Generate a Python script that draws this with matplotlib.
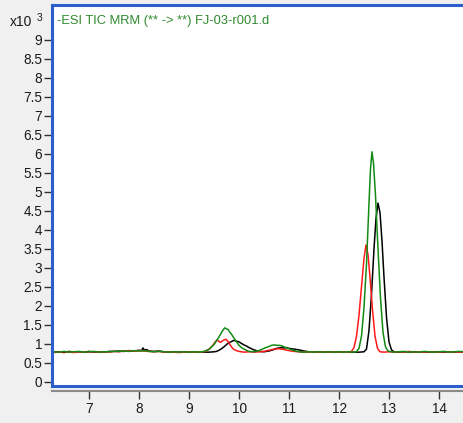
import numpy as np
import matplotlib.pyplot as plt

# retention time (min) and counts (x10^3) for each MRM trace
black_t = [6.26, 6.4, 6.5, 6.6, 6.7, 6.8, 6.9, 7.0, 7.1, 7.2, 7.3, 7.4, 7.5, 7.6, 7.7, 7.8, 7.9,
           8.0, 8.05, 8.08, 8.11, 8.15, 8.2, 8.3, 8.4, 8.5, 8.6, 8.7, 8.8, 8.9, 9.0, 9.1, 9.2,
           9.3, 9.4, 9.5, 9.55, 9.6, 9.65, 9.7, 9.75, 9.8, 9.85, 9.9, 9.95, 10.0, 10.05, 10.1,
           10.15, 10.2, 10.3, 10.4, 10.5, 10.6, 10.7, 10.75, 10.8, 10.85, 10.9, 10.95, 11.0,
           11.05, 11.1, 11.2, 11.3, 11.4, 11.5, 11.6, 11.7, 11.8, 11.9, 12.0, 12.1, 12.2,
           12.3, 12.4, 12.5, 12.55, 12.6, 12.65, 12.7, 12.74, 12.78, 12.82, 12.86, 12.9,
           12.95, 13.0, 13.05, 13.1, 13.2, 13.3, 13.4, 13.5, 13.6, 13.7, 13.8, 13.9, 14.0,
           14.1, 14.2, 14.3, 14.4, 14.5]
black_y = [0.78, 0.79, 0.77, 0.80, 0.78, 0.79, 0.78, 0.80, 0.78, 0.79, 0.78, 0.80, 0.80, 0.81, 0.80, 0.82, 0.81,
           0.83, 0.82, 0.89, 0.83, 0.85, 0.81, 0.80, 0.81, 0.79, 0.78, 0.79, 0.78, 0.78, 0.79, 0.78, 0.78,
           0.78, 0.78, 0.79, 0.80, 0.83, 0.87, 0.92, 0.98, 1.03, 1.06, 1.09, 1.07, 1.05, 1.01, 0.97,
           0.94, 0.90, 0.84, 0.80, 0.79, 0.81, 0.85, 0.88, 0.89, 0.90, 0.89, 0.90, 0.88,
           0.87, 0.86, 0.84, 0.81, 0.79, 0.78, 0.79, 0.78, 0.79, 0.78, 0.78, 0.79, 0.78,
           0.78, 0.78, 0.79, 0.86, 1.35, 2.30, 3.50, 4.30, 4.70, 4.45, 3.70, 2.75,
           1.70, 1.05, 0.84, 0.79, 0.78, 0.79, 0.78, 0.78, 0.79, 0.78, 0.78, 0.79, 0.78,
           0.78, 0.79, 0.78, 0.78, 0.78]

red_t = [6.26, 6.4, 6.5, 6.6, 6.7, 6.8, 6.9, 7.0, 7.1, 7.2, 7.3, 7.4, 7.5, 7.6, 7.7, 7.8, 7.9,
         8.0, 8.1, 8.2, 8.3, 8.4, 8.5, 8.6, 8.7, 8.8, 8.9, 9.0, 9.1, 9.2, 9.3, 9.35, 9.4, 9.45,
         9.5, 9.53, 9.56, 9.6, 9.63, 9.66, 9.7, 9.74, 9.78, 9.82, 9.86, 9.9, 9.95, 10.0, 10.05,
         10.1, 10.2, 10.3, 10.4, 10.5, 10.6, 10.7, 10.8, 10.9, 11.0, 11.1, 11.2, 11.3, 11.4,
         11.5, 11.6, 11.7, 11.8, 11.9, 12.0, 12.1, 12.2, 12.25, 12.3, 12.35, 12.4, 12.45, 12.5,
         12.54, 12.58, 12.62, 12.67, 12.72, 12.77, 12.82, 12.9, 13.0, 13.1, 13.2, 13.3, 13.4,
         13.5, 13.6, 13.7, 13.8, 13.9, 14.0, 14.1, 14.2, 14.3, 14.4, 14.5]
red_y = [0.77, 0.78, 0.79, 0.78, 0.77, 0.79, 0.78, 0.78, 0.79, 0.78, 0.79, 0.78, 0.80, 0.79, 0.81, 0.82, 0.81,
         0.82, 0.81, 0.80, 0.79, 0.80, 0.78, 0.79, 0.78, 0.77, 0.78, 0.79, 0.78, 0.78, 0.79, 0.82, 0.86, 0.92,
         1.00, 1.06, 1.10, 1.06, 1.04, 1.07, 1.10, 1.12, 1.06, 0.98, 0.90, 0.85, 0.82, 0.80, 0.79,
         0.78, 0.79, 0.78, 0.79, 0.80, 0.83, 0.86, 0.87, 0.85, 0.82, 0.80, 0.79, 0.78, 0.79,
         0.78, 0.78, 0.79, 0.78, 0.79, 0.78, 0.79, 0.78, 0.80, 0.90, 1.20, 1.75, 2.50, 3.25,
         3.60, 3.35, 2.75, 1.90, 1.20, 0.88, 0.79, 0.78, 0.79, 0.78, 0.79, 0.78, 0.80,
         0.78, 0.79, 0.78, 0.79, 0.78, 0.78, 0.79, 0.78, 0.79, 0.78, 0.78]

green_t = [6.26, 6.4, 6.5, 6.6, 6.7, 6.8, 6.9, 7.0, 7.1, 7.2, 7.3, 7.4, 7.5, 7.6, 7.7, 7.8, 7.9,
           8.0, 8.1, 8.2, 8.3, 8.4, 8.5, 8.6, 8.7, 8.8, 8.9, 9.0, 9.1, 9.2, 9.3, 9.4, 9.5, 9.55,
           9.6, 9.63, 9.66, 9.69, 9.72, 9.75, 9.78, 9.82, 9.85, 9.9, 9.95, 10.0, 10.05, 10.1,
           10.2, 10.3, 10.4, 10.5, 10.6, 10.65, 10.7, 10.75, 10.8, 10.85, 10.9, 11.0, 11.1,
           11.2, 11.3, 11.4, 11.5, 11.6, 11.7, 11.8, 11.9, 12.0, 12.1, 12.2, 12.3, 12.35,
           12.4, 12.45, 12.5, 12.55, 12.6, 12.63, 12.66, 12.69, 12.73, 12.78, 12.83, 12.88,
           12.93, 12.98, 13.05, 13.1, 13.2, 13.3, 13.4, 13.5, 13.6, 13.7, 13.8, 13.9, 14.0,
           14.1, 14.2, 14.3, 14.4, 14.5]
green_y = [0.79, 0.78, 0.80, 0.78, 0.79, 0.80, 0.78, 0.79, 0.80, 0.78, 0.79, 0.79, 0.80, 0.80, 0.81, 0.80, 0.82,
           0.81, 0.82, 0.80, 0.79, 0.80, 0.79, 0.78, 0.79, 0.78, 0.79, 0.78, 0.79, 0.78, 0.80, 0.85, 0.98, 1.08,
           1.18, 1.25, 1.32, 1.38, 1.42, 1.39, 1.38, 1.30, 1.25, 1.15, 1.05, 0.96, 0.90, 0.86,
           0.80, 0.79, 0.82, 0.88, 0.93, 0.96, 0.97, 0.96, 0.96, 0.95, 0.92, 0.87, 0.82,
           0.79, 0.78, 0.79, 0.78, 0.79, 0.78, 0.79, 0.78, 0.79, 0.78, 0.79, 0.78, 0.80,
           0.88, 1.20, 1.95, 3.10, 4.70, 5.60, 6.05, 5.75, 4.90, 3.50, 2.20, 1.30,
           0.92, 0.81, 0.79, 0.78, 0.79, 0.80, 0.78, 0.79, 0.78, 0.80, 0.79, 0.78, 0.79,
           0.80, 0.78, 0.79, 0.80, 0.79]

y_ticks = np.arange(0, 9.5, 0.5)
y_labels = ["%g" % v for v in y_ticks]
x_ticks = [7, 8, 9, 10, 11, 12, 13, 14]
title = "-ESI TIC MRM (** -> **) FJ-03-r001.d"

plt.rcParams['font.family'] = ['Liberation Sans', 'DejaVu Sans']
W, H = 464, 423
fig = plt.figure(figsize=(W / 100, H / 100), dpi=100, facecolor='#f0f0f0')
ax = fig.add_axes([52 / W, 1 - 386 / H, 414 / W, 381 / H])
ax.set_facecolor('white')

ax.plot(black_t, black_y, color='black', lw=1.1)
ax.plot(red_t, red_y, color='#ff1a1a', lw=1.1)
ax.plot(green_t, green_y, color='#138a13', lw=1.1)

ax.set_xlim(6.26, 14.54)
ax.set_ylim(-0.11, 9.91)

blue = '#2a5fcc'
for side in ['left', 'top', 'bottom']:
    ax.spines[side].set_color(blue)
    ax.spines[side].set_linewidth(2.2)
ax.spines['right'].set_visible(False)

ax.set_yticks(y_ticks)
ax.set_yticklabels(y_labels)
ax.tick_params(axis='y', direction='out', length=6, width=1, color='#333333',
               pad=1, labelsize=9.8, labelcolor='#1a1a1a')
ax.set_xticks([])

# separate grey time axis just below the frame
sec = ax.secondary_xaxis(-0.012)
sec.spines['bottom'].set_color('#8a8a8a')
sec.spines['bottom'].set_linewidth(1.5)
sec.set_xticks(x_ticks)
sec.tick_params(axis='x', direction='out', length=6, width=1, color='#333333',
                pad=2, labelsize=9.8, labelcolor='#1a1a1a')

ax.text(0.012, 0.99 - 12 / 381, title, transform=ax.transAxes, color='#2f8a2f',
        fontsize=9.3, va='center', ha='left')
fig.text(10 / W, 1 - 22 / H, "x10", fontsize=10, color='#1a1a1a', va='center', ha='left')
fig.text(37 / W, 1 - 18 / H, "3", fontsize=7.5, color='#1a1a1a', va='center', ha='left')

fig.savefig('out.png', dpi=100, facecolor=fig.get_facecolor())
